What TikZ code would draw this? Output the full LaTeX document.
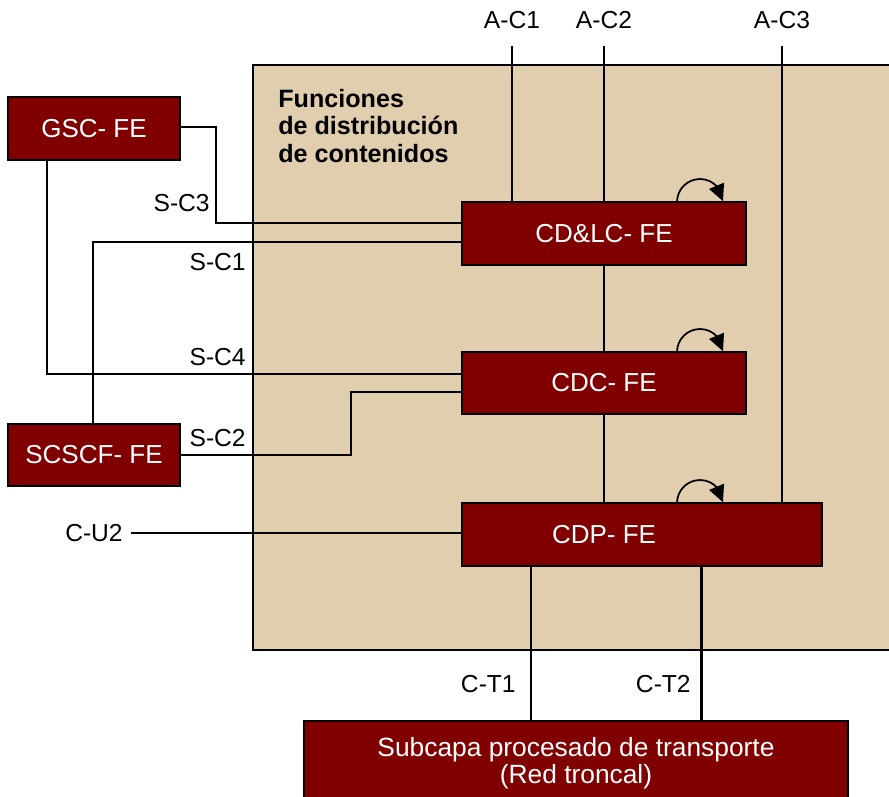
\documentclass[tikz,border=0pt]{standalone}
\usepackage{fontspec}
\setmainfont{Liberation Sans}
\usetikzlibrary{arrows.meta,bending}
\definecolor{beige}{HTML}{E0CEAE}
\definecolor{dred}{HTML}{800000}
\begin{document}
\begin{tikzpicture}[x=0.02cm,y=-0.02cm,
  fe/.style={draw=black,line width=1.1pt,fill=dred,text=white,inner sep=0pt,
    font=\fontsize{14.8}{16}\selectfont,align=center},
  lbl/.style={font=\fontsize{14}{16}\selectfont,inner sep=0pt},
  conn/.style={line width=0.9pt},
  loop/.style={line width=1pt,-{Triangle[length=9.5pt,width=9pt]}}]
\clip (0,0) rectangle (889,796);
% background area
\fill[white] (0,0) rectangle (889,796);
\draw[fill=beige,line width=1.2pt] (253,65) rectangle (905,650);
\node[anchor=north west,align=left,inner sep=0pt,font=\bfseries\fontsize{14.3}{15.6}\selectfont] (title) at (278,89)
  {Funciones\\de distribución\\de contenidos};
% boxes
\node[fe,minimum width=3.44cm,minimum height=1.26cm] (gsc) at (94,128.5) {GSC- FE};
\node[fe,minimum width=3.44cm,minimum height=1.24cm] (scscf) at (94,455) {SCSCF- FE};
\node[fe,minimum width=5.68cm,minimum height=1.26cm] (cdlc) at (604,233.5) {CD\&LC- FE};
\node[fe,minimum width=5.68cm,minimum height=1.24cm] (cdc) at (604,383) {CDC- FE};
\node[fe,minimum width=7.2cm,minimum height=1.26cm] (cdp) at (642,534.5) {};
\node[lbl,text=white,font=\fontsize{14.8}{16}\selectfont] (cdptext) at (604,535) {CDP- FE};
\node[fe,minimum width=10.88cm,minimum height=1.7cm,anchor=north,font=\fontsize{15}{16}\selectfont] (sub) at (576,720)
  {Subcapa procesado de transporte\\[-0.5pt](Red troncal)};
% top labels and lines
\node[lbl] (lac1) at (512,20) {A-C1};
\node[lbl] (lac2) at (604,20) {A-C2};
\node[lbl] (lac3) at (782,20) {A-C3};
\coordinate (ac1) at (512,46);
\coordinate (ac2) at (604,46);
\coordinate (ac3) at (782,46);
\draw[conn] (ac1) -- (ac1 |- cdlc.north);
\draw[conn] (ac2) -- (ac2 |- cdlc.north);
\draw[conn] (ac3) -- (ac3 |- cdp.north);
% vertical links
\draw[conn] (cdlc.south) -- (cdc.north);
\draw[conn] (cdc.south) -- (cdc.south |- cdp.north);
% S-C3
\coordinate (sc3a) at (216,127);
\coordinate (sc3b) at (216,223);
\draw[conn] (gsc.east |- sc3a) -- (sc3a) -- (sc3b) -- (sc3b -| cdlc.west);
\node[lbl,anchor=east] (lsc3) at (210,203) {S-C3};
% S-C1
\coordinate (sc1a) at (93,242);
\draw[conn] (scscf.north -| sc1a) -- (sc1a) -- (sc1a -| cdlc.west);
\node[lbl,anchor=east] (lsc1) at (246,262) {S-C1};
% S-C4
\coordinate (sc4a) at (47,374);
\draw[conn] (gsc.south -| sc4a) -- (sc4a) -- (sc4a -| cdc.west);
\node[lbl,anchor=east] (lsc4) at (246,357) {S-C4};
% S-C2
\coordinate (sc2a) at (351,455);
\coordinate (sc2b) at (351,392);
\draw[conn] (scscf.east |- sc2a) -- (sc2a) -- (sc2b) -- (sc2b -| cdc.west);
\node[lbl,anchor=east] (lsc2) at (246,438) {S-C2};
% C-U2
\node[lbl,anchor=east] (lcu2) at (123,533) {C-U2};
\coordinate (cu2) at (131,533);
\draw[conn] (cu2) -- (cu2 -| cdp.west);
% C-T1, C-T2
\coordinate (ct1) at (531,566);
\coordinate (ct2) at (701.5,566);
\draw[conn] (ct1 |- cdp.south) -- (ct1 |- sub.north);
\draw[line width=1.8pt] (ct2 |- cdp.south) -- (ct2 |- sub.north);
\node[lbl,anchor=east] (lct1) at (516,684) {C-T1};
\node[lbl,anchor=east] (lct2) at (691,684) {C-T2};
% loop arrows
\foreach \b/\yy in {cdlc/202,cdc/352,cdp/503}{
  \draw[loop] (677,\yy) arc[start angle=180,end angle=2,radius=0.46cm];
}
\end{tikzpicture}
\end{document}
